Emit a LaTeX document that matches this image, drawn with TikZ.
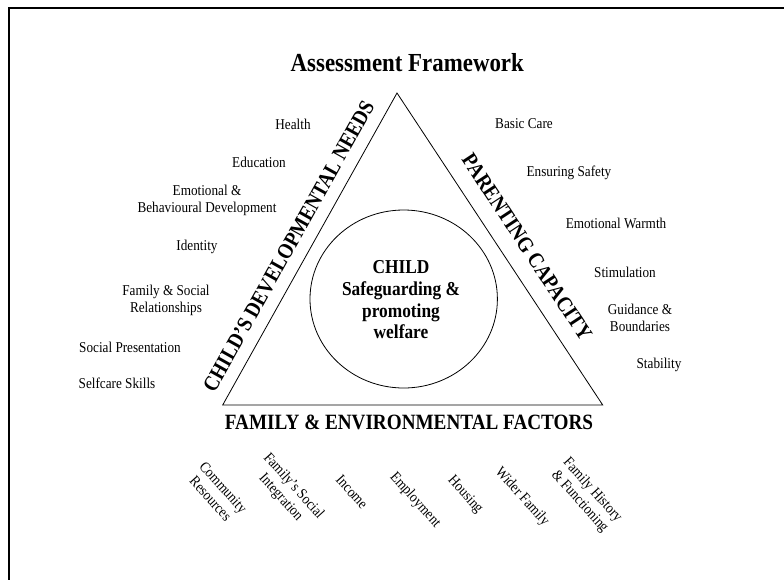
\documentclass[tikz,border=0pt]{standalone}
\usepackage{fontspec}
\setmainfont{Liberation Serif}[FakeStretch=0.88]

\begin{document}
\begin{tikzpicture}[x=1pt, y=-1pt, line cap=round, line join=miter,
  heading/.style={font=\fontsize{21.8}{24}\selectfont\bfseries, inner sep=0pt},
  item/.style={font=\fontsize{15}{17}\selectfont, align=center, inner sep=0pt},
  factor/.style={item, rotate=-48}]

  \useasboundingbox (0,0) rectangle (784,579);

  % frame
  \draw[line width=2pt] (9,590) -- (9,8.3) -- (795,8.3);

  % coordinates
  \coordinate (L) at (222.7,405);
  \coordinate (R) at (602.7,405);
  \coordinate (T) at (397,93);

  % triangle and its sides
  \draw[line width=0.8pt] (L) -- node[heading, sloped, pos=.478, above=12pt] (needs) {CHILD'S DEVELOPMENTAL NEEDS} (T)
            -- node[heading, sloped, pos=.536, above=16pt] (parenting) {PARENTING CAPACITY} (R)
            -- cycle;

  % child in the middle
  \draw[line width=0.8pt] (403.7,299) ellipse (93.7 and 89);
  \node[font=\fontsize{19.7}{21.7}\selectfont\bfseries, align=center] (child) at (401,300)
    {CHILD\\Safeguarding \&\\promoting\\welfare};

  % headings
  \node[heading, font=\fontsize{26}{28}\selectfont\bfseries] (title) at (407.3,63) {Assessment Framework};
  \node[heading] (family) at (409,422.5) {FAMILY \& ENVIRONMENTAL FACTORS};

  % developmental needs
  \foreach \x/\y/\txt [count=\i] in {293/124/Health, 259/162/Education,
      207/200.5/Emotional \&\\Behavioural Development, 197/247/Identity,
      166/300/Family \& Social\\Relationships, 130/347/Social Presentation,
      117/383/Selfcare Skills}
    \node[item] (need\i) at (\x,\y) {\txt};

  % parenting capacity
  \foreach \x/\y/\txt [count=\i] in {524/124/Basic Care, 569/173/Ensuring Safety,
      616/223/Emotional Warmth, 625/272/Stimulation,
      640/318/Guidance \&\\Boundaries, 659/365/Stability}
    \node[item] (care\i) at (\x,\y) {\txt};

  % family and environmental factors
  \foreach \x/\y/\txt [count=\i] in {217/493/Community\\Resources,
      287/492/Family's Social\\Integration, 352/492/Income, 415/500/Employment,
      465/495/Housing, 522/497/Wider Family, 586/496/Family History\\\& Functioning}
    \node[factor] (env\i) at (\x,\y) {\txt};
\end{tikzpicture}
\end{document}
